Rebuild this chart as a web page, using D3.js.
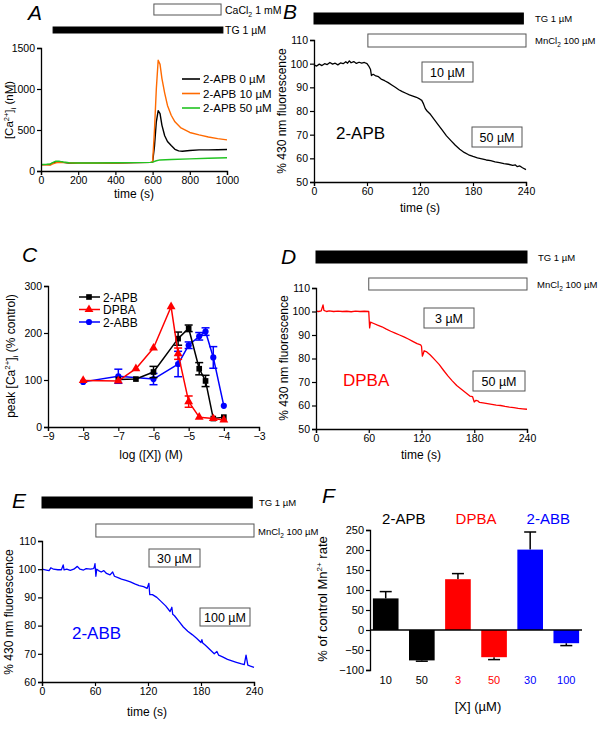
<!DOCTYPE html>
<html><head><meta charset="utf-8">
<script src="https://cdn.jsdelivr.net/npm/d3@7/dist/d3.min.js"></script>
<style>
body{margin:0;background:#fff;}
svg{font-family:"Liberation Sans",Arial,sans-serif;}
</style></head>
<body><svg id="fig" width="600" height="730"></svg>
<script>
// ---------- DATA ----------
// Panel A: [Ca2+]i traces (time s, nM)
const aLegend = ["2-APB 0 µM", "2-APB 10 µM", "2-APB 50 µM"];
const aColors = ["#000000", "#ff6a00", "#22c322"];
const aBlack = [[0,78],[30,78],[50,80],[60,95],[80,110],[100,112],[120,105],[150,98],[200,95],[300,95],[400,98],[500,102],[590,105],[600,108],[610,300],[620,600],[630,735],[640,700],[650,560],[665,430],[680,360],[700,310],[720,265],[740,245],[760,240],[800,250],[850,258],[900,258],[950,260],[1000,262]];
const aOrange = [[0,75],[30,75],[50,72],[60,85],[80,100],[100,105],[150,100],[200,95],[300,95],[400,98],[500,102],[590,105],[600,110],[610,500],[620,1000],[630,1350],[640,1300],[650,1130],[665,950],[680,800],[700,680],[720,600],[750,530],[800,470],[850,440],[900,415],[950,395],[1000,380]];
const aGreen = [[0,80],[30,82],[50,85],[60,100],[80,120],[100,118],[120,110],[150,100],[200,98],[300,98],[400,100],[500,102],[590,105],[600,108],[620,125],[640,135],[700,140],[800,148],[900,155],[1000,162]];
const aXTicks = [0,200,400,600,800,1000];
const aYTicks = [0,500,1000,1500];

// Panel B: 2-APB Mn quench (time s, %)
const bTrace = [[0,99.5],[3,99],[6,99.8],[9,99.2],[12,100],[15,99.6],[18,100.5],[21,99.8],[24,100.2],[27,99.5],[30,100.3],[33,100],[36,100.8],[38,100.2],[40,101.2],[42,100.4],[45,100.9],[48,100.1],[51,100.6],[54,100.2],[57,100.5],[60,100],[62,99],[64,97.5],[65,95],[67,95.5],[70,94.8],[73,94.5],[76,93.5],[80,92.8],[84,92],[88,91],[92,90],[96,89],[100,88.2],[104,87.5],[108,86.8],[112,86.3],[116,85.8],[120,85],[122,84.5],[124,83],[126,81],[128,80],[132,78.5],[136,76.5],[140,74.5],[145,72],[150,69.5],[155,67.5],[160,65.5],[165,63.8],[170,62.5],[175,61.5],[180,60.8],[185,60.2],[190,59.8],[195,59.3],[200,59],[205,58.5],[210,58.2],[215,57.8],[220,57.5],[225,57],[228,57.2],[230,56.5],[233,56.8],[236,56],[240,55.2]];
const timeTicks = [0,60,120,180,240];
const bYTicks = [50,60,70,80,90,100,110];

// Panel C: dose-response (log M, % control, sem)
const cLegend = ["2-APB","DPBA","2-ABB"];
const cColors = ["#000000","#ff0000","#0000ff"];
const cAPB = [[-7,101,0],[-6.5,102,0],[-6,117,12],[-5.3,188,14],[-5,210,7],[-4.7,124,13],[-4.52,98,12],[-4.3,18,0],[-4,21,0]];
const cDPBA = [[-8,99,0],[-7,98,0],[-6.5,124,0],[-6,168,0],[-5.5,256,0],[-5.3,156,12],[-5,54,12],[-4.7,21,0],[-4.3,18,0],[-4,15,0]];
const cABB = [[-8,96,0],[-7,108,15],[-6,102,12],[-5.3,134,27],[-5,174,7],[-4.7,193,8],[-4.52,203,8],[-4.3,148,23],[-4,45,0]];
const cXTicks = [-9,-8,-7,-6,-5,-4,-3];
const cYTicks = [0,100,200,300];

// Panel D: DPBA Mn quench
const dTrace = [[0,100.2],[3,100],[6,100.3],[8,102.8],[9,100.5],[12,100],[15,100.3],[20,100],[25,100.2],[30,100],[35,100.1],[40,99.9],[45,100.2],[50,100],[55,100.1],[60,100],[61,93],[62,95.5],[65,95],[70,94.2],[75,93.5],[80,92.5],[85,91.6],[90,90.8],[95,90],[100,89.2],[105,88.3],[110,87.3],[115,86.3],[119,85.8],[120,85.2],[121,81],[122,82],[123,83.3],[126,82.8],[130,81.5],[135,79.5],[140,77.5],[145,75],[150,72.6],[155,70.5],[160,68.5],[165,67],[170,65.5],[175,64],[178,63.8],[180,61.5],[182,62.2],[184,62],[186,61.3],[190,61.1],[195,60.8],[200,60.5],[205,60.2],[210,60],[215,59.6],[220,59.3],[225,59.1],[230,58.8],[235,58.6],[240,58.4]];

// Panel E: 2-ABB Mn quench
const eTrace = [[0,100],[5,99.7],[8,99.5],[10,100.5],[13,100],[18,99.8],[22,99.8],[24,101.5],[25,99.8],[28,100],[32,99.6],[36,100],[40,101],[43,100],[47,99.7],[50,100.2],[55,100],[58,100.2],[59,100.5],[60,102],[61,97.5],[62,100],[64,99.5],[67,99],[70,99.5],[73,98.5],[77,98],[80,99],[82,97.5],[86,97],[90,96.5],[95,96],[100,95.5],[105,94.8],[110,94.2],[115,93.8],[119,93.2],[121,95],[122,91],[125,91],[130,90],[135,88.5],[140,87],[145,85],[147,86.5],[148,84],[150,83.5],[155,81.5],[160,79.5],[165,78],[170,76.8],[175,75.5],[180,74],[181,75],[182,73.8],[185,73],[190,71.5],[195,70],[198,70.8],[200,69.5],[205,68.8],[210,68],[215,67.5],[220,67],[225,66.5],[229,66.2],[231,69.5],[233,66],[236,65.6],[240,65.2]];
const eYTicks = [60,70,80,90,100,110];

// Panel F: Mn2+ rate bars
const fLabels = ["10","50","3","50","30","100"];
const fValues = [79,-76,127,-68,201,-33];
const fErrors = [17,2,14,6,44,6];
const fColors = ["#000000","#000000","#ff0000","#ff0000","#0000ff","#0000ff"];
const fGroups = ["2-APB","DPBA","2-ABB"];
const fYTicks = [-100,-50,0,50,100,150,200,250];

// ---------- DRAWING ----------
const svg = d3.select("#fig");
const FS = 10.5;
const fmt = d3.format("d");

function styleAxis(g){
  g.selectAll("path.domain").attr("stroke","#000").attr("stroke-width",1.3);
  g.selectAll(".tick line").attr("stroke","#000").attr("stroke-width",1.2);
  g.selectAll(".tick text").attr("font-size",FS).attr("fill","#000").attr("font-family","Liberation Sans, Arial, sans-serif");
}
function axes(x,y,xt,yt,xpos,ypos){
  const gx = svg.append("g").attr("transform",`translate(0,${xpos})`)
    .call(d3.axisBottom(x).tickValues(xt).tickFormat(fmt).tickSizeOuter(0).tickSize(4).tickPadding(2));
  styleAxis(gx);
  const gy = svg.append("g").attr("transform",`translate(${ypos},0)`)
    .call(d3.axisLeft(y).tickValues(yt).tickFormat(fmt).tickSizeOuter(0).tickSize(4).tickPadding(2));
  styleAxis(gy);
}
function text(x,y,s,opts={}){
  const t = svg.append("text").attr("x",x).attr("y",y).text(s)
    .attr("font-size",opts.size||FS).attr("fill",opts.color||"#000")
    .attr("text-anchor",opts.anchor||"start");
  if(opts.italic) t.attr("font-style","italic");
  if(opts.rotate) t.attr("transform",`rotate(-90,${x},${y})`);
  return t;
}
function letter(x,y,s){ text(x,y,s,{size:21,italic:true}); }
function rect(x0,y0,x1,y1,fill){
  svg.append("rect").attr("x",x0).attr("y",y0).attr("width",x1-x0).attr("height",y1-y0)
    .attr("fill",fill).attr("stroke",fill==="#000"?"#000":"#555").attr("stroke-width",1);
}
function labelBox(x0,y0,x1,y1,s){
  rect(x0,y0,x1,y1,"#fff");
  text((x0+x1)/2,(y0+y1)/2+4.5,s,{size:12.5,anchor:"middle"});
}
function trace(x,y,data,color,w){
  svg.append("path").datum(data).attr("fill","none").attr("stroke",color).attr("stroke-width",w||1.3)
    .attr("stroke-linejoin","round").attr("d",d3.line().x(d=>x(d[0])).y(d=>y(d[1])));
}
function mnLabel(x,y){
  const m = text(x,y,"MnCl",{size:9.5});
  m.append("tspan").text("2").attr("font-size",6.5).attr("dy",3);
  m.append("tspan").text(" 100 µM").attr("dy",-3);
}

// ---- Panel A ----
{
  const x = d3.scaleLinear().domain([0,1000]).range([41,227]);
  const y = d3.scaleLinear().domain([0,1500]).range([171,48]);
  letter(28,20,"A");
  rect(x(607),4,x(968),15,"#fff");
  const c = text(225,14,"CaCl",{size:10.5});
  c.append("tspan").text("2").attr("font-size",7).attr("dy",3);
  c.append("tspan").text(" 1 mM").attr("dy",-3);
  rect(x(65),27,x(978),33,"#000");
  text(225,34,"TG 1 µM",{size:10.5});
  [aBlack,aOrange,aGreen].forEach((d,i)=>trace(x,y,d,aColors[i],1.4));
  axes(x,y,aXTicks,aYTicks,171,41);
  aLegend.forEach((s,i)=>{
    const yy = 79+i*14.5;
    svg.append("line").attr("x1",182).attr("x2",200).attr("y1",yy).attr("y2",yy).attr("stroke",aColors[i]).attr("stroke-width",1.6);
    text(203,yy+4,s,{size:11.5});
  });
  text(134,198,"time (s)",{size:12,anchor:"middle"});
  const t = text(13,110,"",{size:11.5,anchor:"middle",rotate:true});
  t.append("tspan").text("[Ca");
  t.append("tspan").text("2+").attr("font-size",7.5).attr("dy",-4);
  t.append("tspan").text("]").attr("dy",4);
  t.append("tspan").text("i").attr("font-size",7.5).attr("dy",3);
  t.append("tspan").text(" (nM)").attr("dy",-3);
}

// ---- Panel B ----
{
  const x = d3.scaleLinear().domain([0,240]).range([314,526]);
  const y = d3.scaleLinear().domain([50,110]).range([182,40]);
  letter(283,19,"B");
  rect(x(0),13,x(237),24,"#000");
  text(535,22,"TG 1 µM",{size:9.5});
  rect(x(61),34,x(240),47,"#fff");
  mnLabel(535,44);
  trace(x,y,bTrace,"#000",1.3);
  axes(x,y,timeTicks,bYTicks,182,314);
  labelBox(422,62,473,82,"10 µM");
  labelBox(472,127,522,147,"50 µM");
  text(336,139,"2-APB",{size:17});
  text(420,212,"time (s)",{size:12,anchor:"middle"});
  text(286,111,"% 430 nm fluorescence",{size:12,anchor:"middle",rotate:true});
}

// ---- Panel C ----
{
  const x = d3.scaleLinear().domain([-9,-3]).range([48,259]);
  const y = d3.scaleLinear().domain([0,300]).range([427,286]);
  letter(22,262,"C");
  const sets = [cAPB,cDPBA,cABB];
  const sym = [d3.symbolSquare,d3.symbolTriangle,d3.symbolCircle];
  const sz = [32,34,30];
  [2,0,1].forEach(i=>{
    const d = sets[i], c = cColors[i];
    trace(x,y,d.map(p=>[p[0],p[1]]),c,1.5);
    d.filter(p=>p[2]>0).forEach(p=>{
      const g = svg.append("g").attr("stroke",c).attr("stroke-width",1.5);
      g.append("line").attr("x1",x(p[0])).attr("x2",x(p[0])).attr("y1",y(p[1]-p[2])).attr("y2",y(p[1]+p[2]));
      [p[1]-p[2],p[1]+p[2]].forEach(v=>g.append("line").attr("x1",x(p[0])-4).attr("x2",x(p[0])+4).attr("y1",y(v)).attr("y2",y(v)));
    });
    svg.append("g").selectAll("path").data(d).join("path")
      .attr("transform",p=>`translate(${x(p[0])},${y(p[1])})`)
      .attr("d",d3.symbol().type(sym[i]).size(sz[i])).attr("fill",c);
  });
  axes(x,y,cXTicks,cYTicks,427,48);
  cLegend.forEach((s,i)=>{
    const yy = 297+i*12.5;
    svg.append("line").attr("x1",79).attr("x2",100).attr("y1",yy).attr("y2",yy).attr("stroke",cColors[i]).attr("stroke-width",1.5);
    svg.append("path").attr("transform",`translate(89,${yy})`).attr("d",d3.symbol().type(sym[i]).size(sz[i])).attr("fill",cColors[i]);
    text(103,yy+4.5,s,{size:12});
  });
  text(151,459,"log ([X]) (M)",{size:12,anchor:"middle"});
  const t = text(15,356,"",{size:12,anchor:"middle",rotate:true});
  t.append("tspan").text("peak [Ca");
  t.append("tspan").text("2+").attr("font-size",8).attr("dy",-5);
  t.append("tspan").text("]").attr("dy",5);
  t.append("tspan").text("i").attr("font-size",8).attr("dy",3);
  t.append("tspan").text(" (% control)").attr("dy",-3);
}

// ---- Panel D ----
{
  const x = d3.scaleLinear().domain([0,240]).range([316,527]);
  const y = d3.scaleLinear().domain([50,110]).range([429,288]);
  letter(281,264,"D");
  rect(x(0),251,x(240),263,"#000");
  text(538,261,"TG 1 µM",{size:9.5});
  rect(x(60),278,x(240),290,"#fff");
  mnLabel(537,288);
  trace(x,y,dTrace,"#ff0000",1.3);
  axes(x,y,timeTicks,bYTicks,429,316);
  labelBox(424,308,474,328,"3 µM");
  labelBox(473,371,525,391,"50 µM");
  text(343,386,"DPBA",{size:17,color:"#ff0000"});
  text(421,459,"time (s)",{size:12,anchor:"middle"});
  text(288,358,"% 430 nm fluorescence",{size:12,anchor:"middle",rotate:true});
}

// ---- Panel E ----
{
  const x = d3.scaleLinear().domain([0,240]).range([42,254]);
  const y = d3.scaleLinear().domain([60,110]).range([682,541]);
  letter(12,508,"E");
  rect(x(0),497,x(238),508,"#000");
  text(259,506,"TG 1 µM",{size:9.5});
  rect(x(61),524,x(240),537,"#fff");
  mnLabel(258,535);
  trace(x,y,eTrace,"#0000ff",1.3);
  axes(x,y,timeTicks,eYTicks,682,42);
  labelBox(149,549,200,567,"30 µM");
  labelBox(200,608,250,626,"100 µM");
  text(72,639,"2-ABB",{size:17,color:"#0000ff"});
  text(147,716,"time (s)",{size:12,anchor:"middle"});
  text(13,612,"% 430 nm fluorescence",{size:12,anchor:"middle",rotate:true});
}

// ---- Panel F ----
{
  const x = d3.scaleBand().domain(d3.range(fValues.length)).range([370,582]).paddingInner(0.29).paddingOuter(0.08);
  const y = d3.scaleLinear().domain([-100,250]).range([670,530]);
  letter(322,503,"F");
  fGroups.forEach((s,i)=>{
    const cx = (x(2*i)+x(2*i+1)+x.bandwidth())/2;
    text(cx,524,s,{size:15,anchor:"middle",color:["#000","#ff0000","#0000ff"][i]});
  });
  fValues.forEach((v,i)=>{
    const cx = x(i)+x.bandwidth()/2, e = v>=0? v+fErrors[i] : v-fErrors[i];
    svg.append("line").attr("x1",cx).attr("x2",cx).attr("y1",y(v)).attr("y2",y(e)).attr("stroke","#000").attr("stroke-width",1.5);
    svg.append("line").attr("x1",cx-6).attr("x2",cx+6).attr("y1",y(e)).attr("y2",y(e)).attr("stroke","#000").attr("stroke-width",1.5);
  });
  svg.append("g").selectAll("rect").data(fValues).join("rect")
    .attr("x",(d,i)=>x(i)).attr("width",x.bandwidth())
    .attr("y",d=>y(Math.max(0,d))).attr("height",d=>Math.abs(y(d)-y(0)))
    .attr("fill",(d,i)=>fColors[i]);
  const gy = svg.append("g").attr("transform","translate(370,0)")
    .call(d3.axisLeft(y).tickValues(fYTicks).tickFormat(fmt).tickSizeOuter(0).tickSize(4).tickPadding(2));
  styleAxis(gy);
  gy.selectAll(".tick text").attr("font-size",11);
  svg.append("line").attr("x1",370).attr("x2",582).attr("y1",y(0)).attr("y2",y(0)).attr("stroke","#000").attr("stroke-width",1.3);
  fLabels.forEach((s,i)=>text(x(i)+x.bandwidth()/2,684,s,{size:11,anchor:"middle",color:fColors[i]}));
  text(478,711,"[X] (µM)",{size:13,anchor:"middle"});
  const t = text(327,599,"",{size:13,anchor:"middle",rotate:true});
  t.append("tspan").text("% of control Mn");
  t.append("tspan").text("2+").attr("font-size",8).attr("dy",-5);
  t.append("tspan").text(" rate").attr("dy",5);
}
</script></body></html>
